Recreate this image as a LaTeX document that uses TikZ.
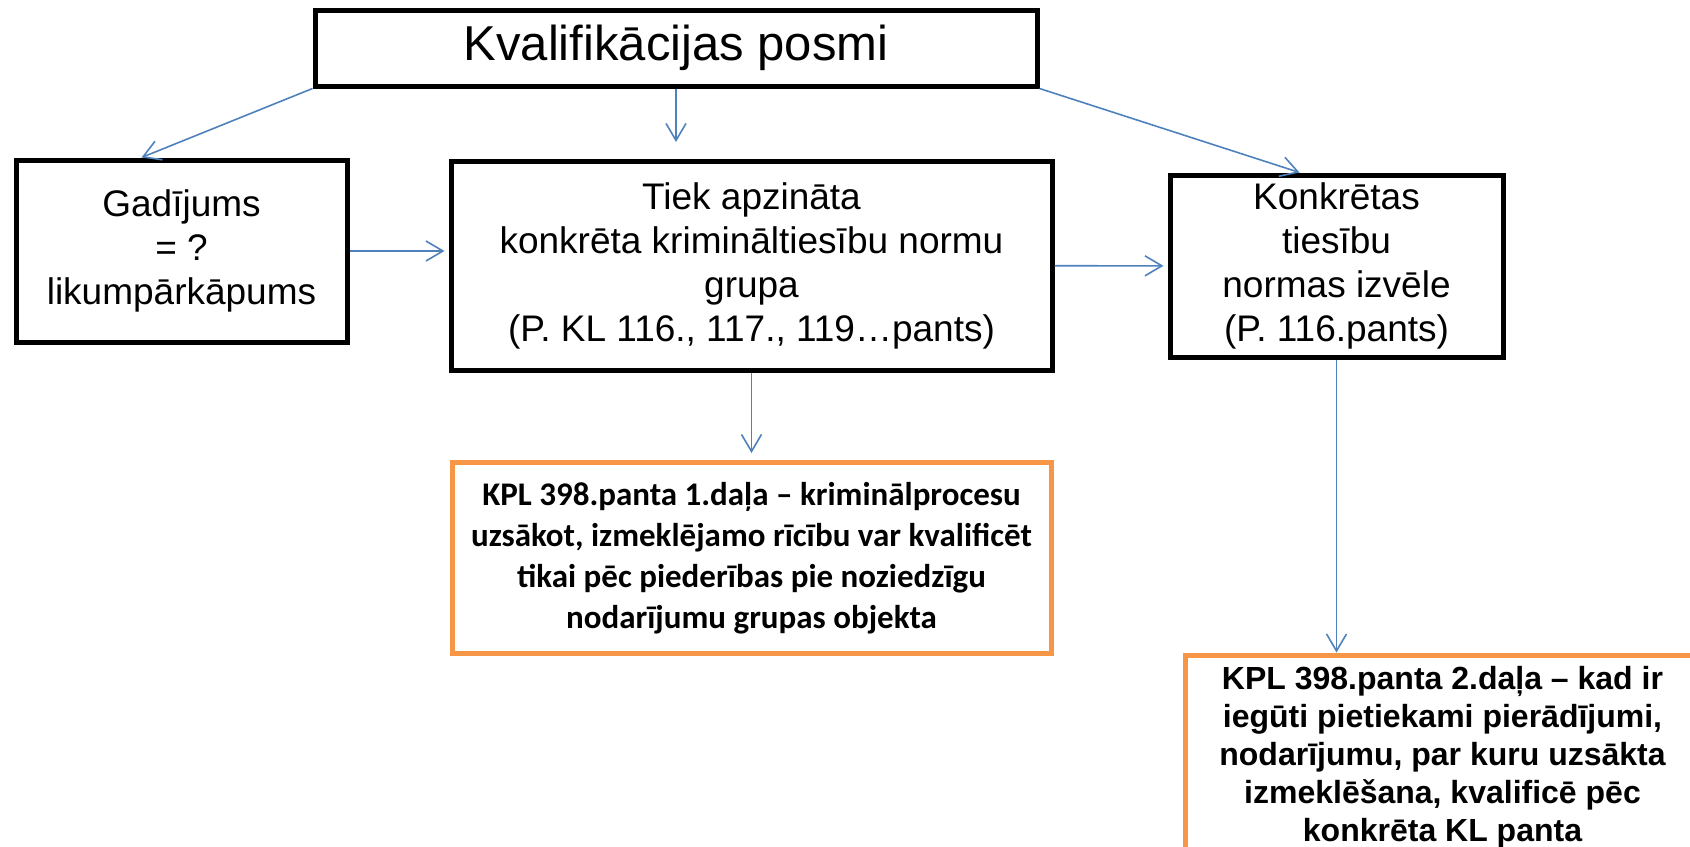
\documentclass[tikz,border=0pt]{standalone}
\usepackage{fontspec}
\setmainfont{Liberation Sans}
\newfontfamily\carlito{Carlito}
\usepackage{tikz}
\usetikzlibrary{arrows.meta,calc}
\definecolor{lineBlue}{HTML}{4F81BD}
\definecolor{boxOrange}{HTML}{F79646}
\tikzstyle{edge}=[draw=lineBlue, line width=0.8pt, -{Straight Barb[length=8.5pt,width=10pt]}]
\tikzstyle{blackBox}=[rectangle, draw=black, line width=2.5pt, inner sep=0pt, align=center, font=\fontsize{18.5}{22}\selectfont]
\tikzstyle{orangeBox}=[rectangle, draw=boxOrange, line width=2.5pt, inner sep=0pt, align=center]

\begin{document}
\begin{tikzpicture}[x=0.5pt, y=-0.5pt]
      \clip (0,0) rectangle (1690,846);
      \node(posmi) [blackBox, minimum width=361pt, minimum height=38pt, font=\fontsize{24.5}{28}\selectfont] at (676, 48){Kvalifikācijas posmi};
      \node(gad) [blackBox, minimum width=165.5pt, minimum height=91pt] at (181.5, 251){Gadījums\\= ?\\likumpārkāpums};
      \node(grupa) [blackBox, minimum width=300.5pt, minimum height=104.5pt] at (751.5, 265.5){Tiek apzināta\\konkrēta krimināltiesību normu\\grupa\\(P. KL 116., 117., 119…pants)};
      \node(norma) [blackBox, minimum width=166.5pt, minimum height=91pt] at (1336.5, 266){Konkrētas\\tiesību\\normas izvēle\\(P. 116.pants)};
      \node(kpl1) [orangeBox, minimum width=299.5pt, minimum height=95.5pt, font=\carlito\bfseries\fontsize{16.5}{20.5}\selectfont] at (751.5, 558){KPL 398.panta 1.daļa – kriminālprocesu\\uzsākot, izmeklējamo rīcību var kvalificēt\\tikai pēc piederības pie noziedzīgu\\nodarījumu grupas objekta};
      \node(kpl2) [orangeBox, minimum width=257.5pt, minimum height=102pt, font=\bfseries\fontsize{16}{19}\selectfont] at (1442.5, 757){KPL 398.panta 2.daļa – kad ir\\iegūti pietiekami pierādījumi,\\nodarījumu, par kuru uzsākta\\izmeklēšana, kvalificē pēc\\konkrēta KL panta};
      \coordinate(gap) at (676, 142);
      \draw[edge] (posmi.south west) to ($(gad.north)+(-40,0)$);
      \draw[edge] (posmi.south) to (gap);
      \draw[edge] (posmi.south east) to ($(norma.north)+(-37,0)$);
      \draw[edge, shorten >=2pt] (gad.east) to (gad.east -| grupa.west);
      \draw[edge, shorten >=2pt] (grupa) to (norma);
      \draw[edge, shorten >=3.5pt] (grupa.south) to (grupa.south |- kpl1.north);
      \draw[edge] (norma.south) to (norma.south |- kpl2.north);
    \end{tikzpicture}
\end{document}
